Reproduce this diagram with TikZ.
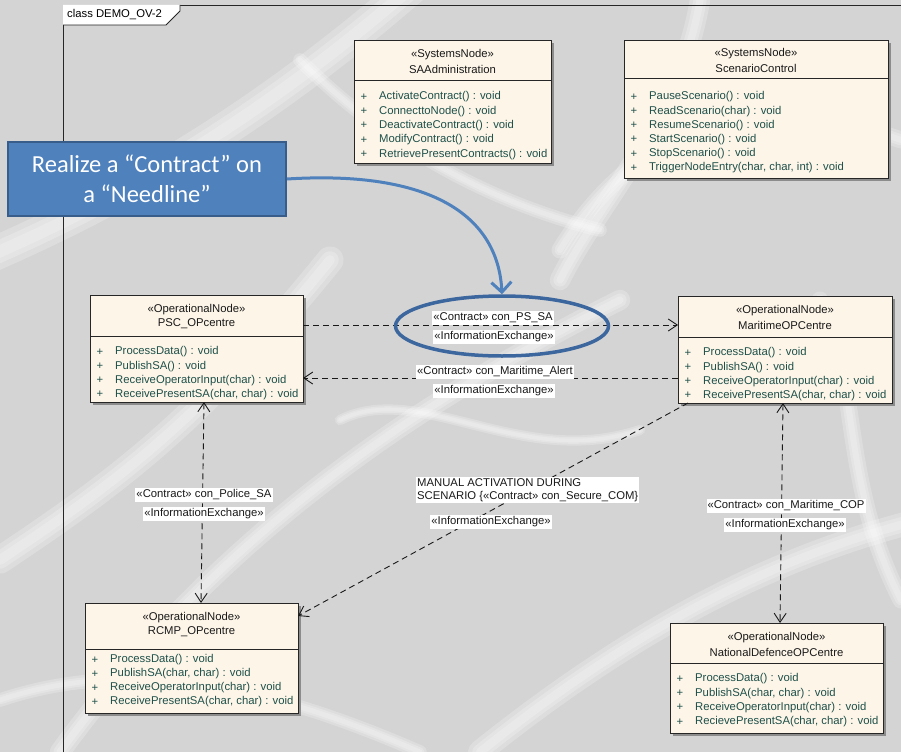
\documentclass[tikz,border=0pt]{standalone}
\usepackage{fontspec}
\setmainfont{Liberation Sans}
\newfontfamily\calloutfont{Carlito}
\usetikzlibrary{arrows.meta,calc,shapes.geometric}

\definecolor{nodefill}{RGB}{253,245,232}
\definecolor{opcolor}{RGB}{30,80,74}
\definecolor{calloutblue}{RGB}{79,129,189}
\definecolor{calloutedge}{RGB}{56,93,138}
\definecolor{ringblue}{RGB}{60,102,158}
\definecolor{bggray}{RGB}{212,212,212}

\tikzset{
  uml/.style={draw=black!85, fill=nodefill, line width=0.9pt, inner sep=0pt,
    outer sep=0pt, anchor=north west, rectangle},
  umltext/.style={font=\fontsize{11.3}{13}\selectfont, inner sep=0pt},
  stereo/.style={umltext, text=black!90},
  opsign/.style={umltext, text=opcolor},
  opname/.style={umltext, text=opcolor, anchor=west},
  lbl/.style={umltext, text=black!90, fill=white, inner xsep=1pt, inner ysep=1.5pt},
  needline/.style={draw=black!90, line width=0.9pt, dash pattern=on 6pt off 4pt},
  oneway/.style={needline, -{Straight Barb[length=9pt,width=12pt]}},
  twoway/.style={needline, {Straight Barb[length=9pt,width=12pt]}-{Straight Barb[length=9pt,width=12pt]}},
  swirl/.style={white, opacity=0.22, line cap=round},
  calloutbox/.style={rectangle, fill=calloutblue, draw=calloutedge, line width=2pt,
    text=white, align=center, inner sep=0pt,
    font=\calloutfont\fontsize{24.5}{30}\selectfont},
  calloutarrow/.style={draw=calloutblue, line width=3pt,
    -{Straight Barb[length=10pt,width=20pt,line width=3pt]}},
}

% UML class box: name, left, top, right, bottom, divider y, stereotype y, stereotype, title
\newcommand\umlbox[9]{%
  \fill[black!45] (#2+3,#3+3) rectangle (#4+3,#5+3);
  \node[uml, minimum width={(#4-#2)*1pt}, minimum height={(#5-#3)*1pt}] (#1) at (#2,#3) {};
  \draw[black!85, line width=0.9pt] (#1.west |- 0,#6) -- (#1.east |- 0,#6);
  \node[stereo] (#1-st) at ({(#2+#4)/2},#7) {«#8»};
  \node[stereo] (#1-ti) at ({(#2+#4)/2},#7+14) {#9};
}
% operation list: name, left, first y, spacing, list
\newcommand\umlops[5]{%
  \foreach \m [count=\i from 0] in {#5}{%
    \node[opsign] (#1-p\i) at (#2+10,#3+\i*#4) {+};
    \node[opname] (#1-o\i) at (#2+25,#3+\i*#4) {\m};
  }}

\begin{document}
\begin{tikzpicture}[x=1pt, y=-1pt]
\useasboundingbox (0,0) rectangle (901,752);

% textured backdrop
\fill[bggray] (0,0) rectangle (901,752);
\begin{scope}
\clip (0,0) rectangle (901,752);
\foreach \w in {34,22,12}{
\draw[swirl, line width=\w pt] (-20,260) .. controls (120,200) and (260,120) .. (420,-20);
\draw[swirl, line width=0.6*\w pt] (60,752) .. controls (200,560) and (380,420) .. (620,300);
\draw[swirl, line width=0.8*\w pt] (0,560) .. controls (120,480) and (200,420) .. (330,260);
\draw[swirl, line width=0.5*\w pt] (560,250) .. controls (640,120) and (760,90) .. (901,140);
\draw[swirl, line width=0.7*\w pt] (480,752) .. controls (620,640) and (760,560) .. (920,520);
\draw[swirl, line width=0.4*\w pt] (300,60) .. controls (380,140) and (480,200) .. (600,230);
\draw[swirl, line width=0.6*\w pt] (700,0) .. controls (680,120) and (600,200) .. (560,280);
\draw[swirl, line width=0.4*\w pt] (0,700) .. controls (150,650) and (300,700) .. (420,752);
\draw[swirl, line width=0.3*\w pt] (340,420) .. controls (420,380) and (520,470) .. (640,430);
\draw[swirl, line width=0.5*\w pt] (820,300) .. controls (860,380) and (840,480) .. (901,600);
}
\end{scope}

% diagram frame and its name tab
\draw[black!85, line width=0.9pt] (63,752) -- (63,5) -- (901,5);
\fill[white] (63,5) -- (180,5) -- (180,11) -- (166,25) -- (63,25) -- cycle;
\draw[black!85, line width=0.9pt] (180,5) -- (180,11) -- (166,25) -- (63,25);
\node[umltext, anchor=west] (frametitle) at (67,15) {class DEMO\_OV-2};

% systems nodes
\umlbox{saadmin}{354}{40}{551}{163}{80}{55}{SystemsNode}{SAAdministration}
\umlops{saadmin}{354}{97}{14.3}{ActivateContract() : void, ConnecttoNode() : void,
  DeactivateContract() : void, ModifyContract() : void, RetrievePresentContracts() : void}

\umlbox{scenario}{624}{40}{888}{178}{78}{54}{SystemsNode}{ScenarioControl}
\umlops{scenario}{624}{97}{14.2}{PauseScenario() : void, ReadScenario(char) : void,
  ResumeScenario() : void, StartScenario() : void, StopScenario() : void,
  {TriggerNodeEntry(char, char, int) : void}}

% operational nodes
\umlbox{psc}{90}{295}{303}{402}{336}{310}{OperationalNode}{PSC\_OPcentre}
\umlops{psc}{90}{352}{14.2}{ProcessData() : void, PublishSA() : void,
  ReceiveOperatorInput(char) : void, {ReceivePresentSA(char, char) : void}}

\umlbox{maritime}{678}{296}{892}{403}{337}{311}{OperationalNode}{MaritimeOPCentre}
\umlops{maritime}{678}{353}{14.2}{ProcessData() : void, PublishSA() : void,
  ReceiveOperatorInput(char) : void, {ReceivePresentSA(char, char) : void}}

\umlbox{rcmp}{85}{603}{298}{713}{649}{618}{OperationalNode}{RCMP\_OPcentre}
\umlops{rcmp}{85}{660}{14}{ProcessData() : void, {PublishSA(char, char) : void},
  ReceiveOperatorInput(char) : void, {ReceivePresentSA(char, char) : void}}

\umlbox{natdef}{670}{623}{883}{733}{663}{638}{OperationalNode}{NationalDefenceOPCentre}
\umlops{natdef}{670}{679}{14.3}{ProcessData() : void, {PublishSA(char, char) : void},
  ReceiveOperatorInput(char) : void, {RecievePresentSA(char, char) : void}}

% needlines
\coordinate (rowA) at (0,325);
\coordinate (rowB) at (0,378);
\draw[oneway] (psc.east |- rowA) -- (maritime.west |- rowA);
\draw[oneway] (maritime.west |- rowB) -- (psc.east |- rowB);
\draw[twoway] ($(psc.south west)+(114,0)$) -- ($(rcmp.north west)+(116,0)$);
\draw[twoway] ($(maritime.south west)+(105,0)$) -- ($(natdef.north west)+(110,0)$);
\draw[oneway] ($(maritime.south west)+(10,0)$) -- ($(rcmp.north east)+(0,13)$);

% needline labels
\node[lbl] (psA) at (493,318) {«Contract» con\_PS\_SA};
\node[lbl] (psB) at (494,337) {«InformationExchange»};
\node[lbl] (alA) at (495,372) {«Contract» con\_Maritime\_Alert};
\node[lbl] (alB) at (494,391) {«InformationExchange»};
\node[lbl] (poA) at (204,495) {«Contract» con\_Police\_SA};
\node[lbl] (poB) at (204,514) {«InformationExchange»};
\node[lbl, anchor=west, align=left, font=\fontsize{11.3}{13.5}\selectfont] (seA) at (416,490)
  {MANUAL ACTIVATION DURING\\SCENARIO \{«Contract» con\_Secure\_COM\}};
\node[lbl] (seB) at (491,522) {«InformationExchange»};
\node[lbl] (coA) at (786,506) {«Contract» con\_Maritime\_COP};
\node[lbl] (coB) at (785,525) {«InformationExchange»};

% callout
\node[calloutbox, minimum width=278pt, minimum height=74pt] (callout) at (147,179)
  {Realize a “Contract” on\\a “Needline”};
\node[ellipse, draw=ringblue, line width=3.5pt, minimum width=213pt,
  minimum height=60pt, inner sep=0pt] (ring) at (502,326) {};
\draw[calloutarrow] (callout.east) .. controls (430,170) and (498,215) .. (ring.north);
\end{tikzpicture}
\end{document}
